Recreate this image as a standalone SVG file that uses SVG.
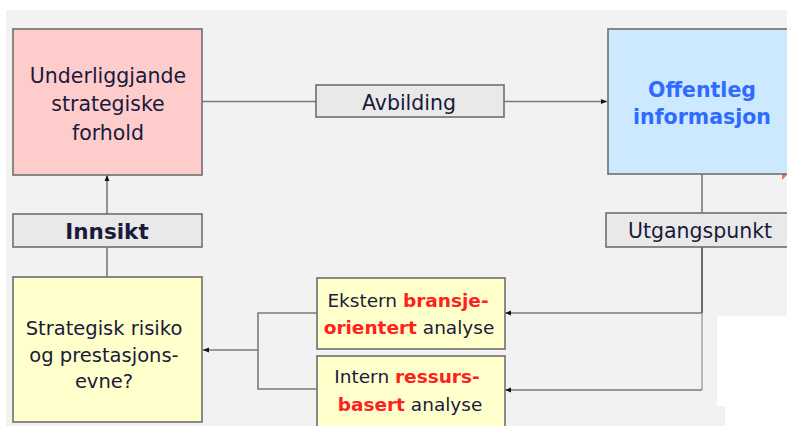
<svg xmlns="http://www.w3.org/2000/svg" width="787" height="426" viewBox="0 0 787 426">
<style>
.box{stroke:#6e6e6e;stroke-width:1.6}
.lbl{fill:#e9e9e9;stroke:#6e6e6e;stroke-width:1.6}
.t{font-family:"DejaVu Sans",Verdana,sans-serif;fill:#1a1a3a;text-anchor:middle}
.ln{fill:none;stroke:#7a7a7a;stroke-width:1.6}
.r{fill:#ff2020;font-weight:bold}
</style>
<defs>
<marker id="ah" viewBox="0 0 10 10" refX="10" refY="5" markerWidth="6" markerHeight="6" markerUnits="userSpaceOnUse" orient="auto">
<path d="M0,1 L10,5 L0,9 z" fill="#111"/>
</marker>
</defs>
<rect width="787" height="426" fill="#ffffff"/>
<rect x="6" y="10" width="781" height="416" fill="#f2f2f2"/>
<rect x="717" y="316" width="70" height="90" fill="#ffffff"/>
<rect x="725" y="406" width="62" height="20" fill="#ffffff"/>

<g id="connectors">
<line class="ln" x1="202" y1="101.5" x2="316" y2="101.5"/>
<line class="ln" x1="504" y1="101.5" x2="607" y2="101.5" marker-end="url(#ah)"/>
<line class="ln" x1="702" y1="174" x2="702" y2="213"/>
<line x1="702" y1="247" x2="702" y2="313" stroke="#6a6a6a" stroke-width="2"/>
<line x1="702" y1="313" x2="702" y2="390" stroke="#b8b8b8" stroke-width="2"/>
<line class="ln" x1="702" y1="313" x2="505" y2="313" marker-end="url(#ah)"/>
<line class="ln" x1="702" y1="390" x2="505" y2="390" marker-end="url(#ah)"/>
<polyline class="ln" points="317,313 258,313 258,389 317,389"/>
<line class="ln" x1="258" y1="350" x2="203" y2="350" marker-end="url(#ah)"/>
<line class="ln" x1="107" y1="277" x2="107" y2="247"/>
<line class="ln" x1="107" y1="214" x2="107" y2="175" marker-end="url(#ah)"/>
<path d="M782,170 L787,175 L782,180 z" fill="#ff6a50"/>
</g>

<g id="underliggjande">
<rect class="box" x="13" y="29" width="189" height="146" fill="#ffcccc"/>
<text class="t" font-size="20.5"><tspan x="108" y="83">Underliggjande</tspan><tspan x="108" y="111">strategiske</tspan><tspan x="108" y="140">forhold</tspan></text>
</g>

<g id="avbilding">
<rect class="lbl" x="316" y="85" width="188" height="32"/>
<text class="t" x="409" y="110" font-size="20.5">Avbilding</text>
</g>

<g id="offentleg">
<rect class="box" x="608" y="29" width="185" height="145" fill="#cce9ff"/>
<text class="t" font-size="20.5" font-weight="bold" style="fill:#2f6bff"><tspan x="702" y="97">Offentleg</tspan><tspan x="702" y="124">informasjon</tspan></text>
</g>

<g id="utgangspunkt">
<rect class="lbl" x="606" y="213" width="185" height="34"/>
<text class="t" x="700" y="238" font-size="20.5">Utgangspunkt</text>
</g>

<g id="innsikt">
<rect class="lbl" x="13" y="214" width="189" height="33"/>
<text class="t" x="107" y="239" font-size="21.5" font-weight="bold">Innsikt</text>
</g>

<g id="strategisk">
<rect class="box" x="13" y="277" width="189" height="145" fill="#ffffcc"/>
<text class="t" font-size="19.5"><tspan x="104" y="335">Strategisk risiko</tspan><tspan x="104" y="362">og prestasjons-</tspan><tspan x="104" y="388">evne?</tspan></text>
</g>

<g id="ekstern">
<rect class="box" x="317" y="278" width="188" height="71" fill="#ffffcc"/>
<text class="t" font-size="18.5"><tspan x="408" y="307">Ekstern <tspan class="r">bransje-</tspan></tspan><tspan x="409" y="334"><tspan class="r">orientert</tspan> analyse</tspan></text>
</g>

<g id="intern">
<rect class="box" x="317" y="356" width="188" height="72" fill="#ffffcc"/>
<text class="t" font-size="18.5"><tspan x="407" y="383">Intern <tspan class="r">ressurs-</tspan></tspan><tspan x="410" y="411"><tspan class="r">basert</tspan> analyse</tspan></text>
</g>
</svg>
